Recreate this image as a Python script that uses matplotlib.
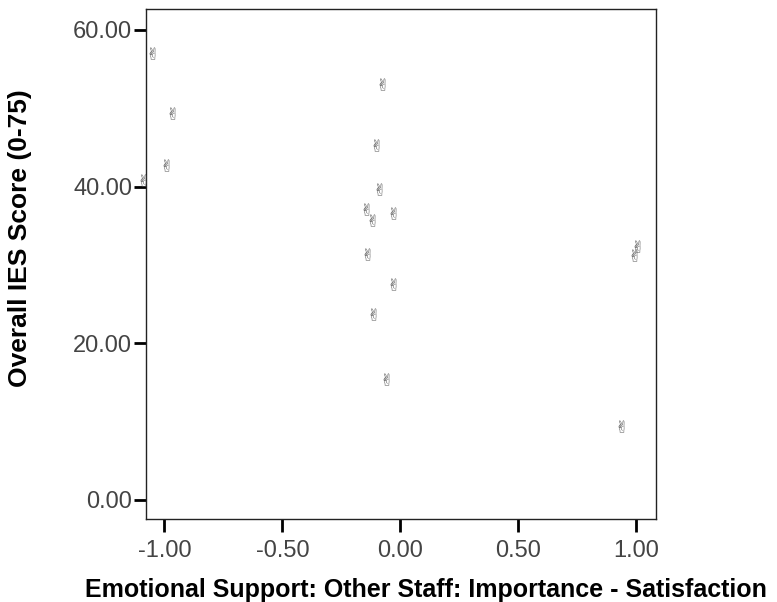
import matplotlib.pyplot as plt

plt.rcParams['font.family'] = ['Liberation Sans', 'DejaVu Sans']

# Emotional support (other staff): importance minus satisfaction, vs overall IES score
support_gap = [-1.052, -0.969, -0.993, -1.092,
               -0.080, -0.104, -0.092, -0.147, -0.032, -0.121,
               -0.140, -0.032, -0.117, -0.062,
               0.988, 1.003, 0.934]
ies_score = [57.0, 49.4, 42.8, 40.8,
             53.1, 45.3, 39.7, 37.1, 36.6, 35.8,
             31.4, 27.6, 23.8, 15.5,
             31.3, 32.4, 9.4]

x_ticks = [-1.0, -0.5, 0.0, 0.5, 1.0]
y_ticks = [0, 20, 40, 60]

fig = plt.figure(figsize=(7.77, 6.02), dpi=100)
ax = fig.add_axes([0.1879, 0.1374, 0.6564, 0.8472])

ax.scatter(support_gap, ies_score, marker='$\u270c$', s=75,
           c='#4f4f4f', linewidths=0, clip_on=False, zorder=3)

ax.set_xlim(-1.078, 1.083)
ax.set_ylim(-2.47, 62.64)
ax.set_xticks(x_ticks)
ax.set_yticks(y_ticks)
ax.set_xticklabels([f'{t:.2f}' for t in x_ticks])
ax.set_yticklabels([f'{t:.2f}' for t in y_ticks])

ax.tick_params(direction='out', length=9, width=2, color='black',
               labelsize=17, labelcolor='#444444')
ax.tick_params(axis='y', pad=1)
ax.tick_params(axis='x', pad=6)
for sp in ax.spines.values():
    sp.set_linewidth(1.0)
    sp.set_color('#222222')

fig.text(426 / 777, 1 - 597 / 602,
         'Emotional Support: Other Staff: Importance - Satisfaction',
         fontsize=18, fontweight='bold', ha='center', va='baseline')
fig.text(20 / 777, 1 - 238 / 602, 'Overall IES Score (0-75)',
         fontsize=19, fontweight='bold', rotation=90,
         ha='center', va='center')

fig.savefig('out.png', dpi=100)
